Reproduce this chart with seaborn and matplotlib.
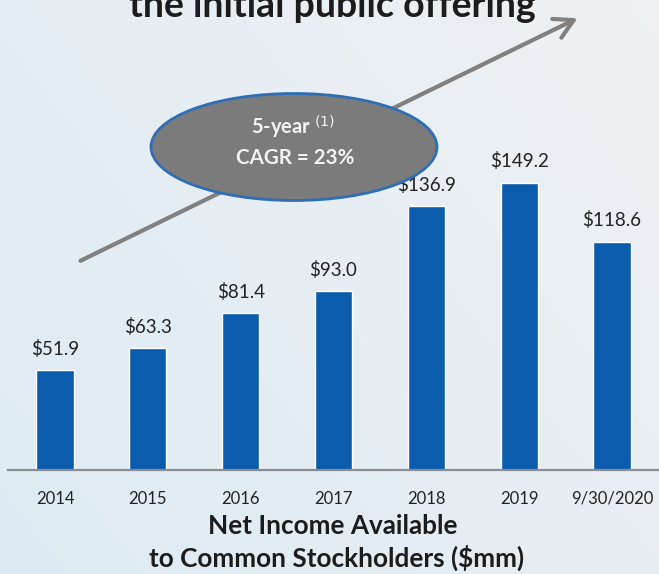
import matplotlib
matplotlib.use("Agg")
import matplotlib.pyplot as plt
import seaborn as sns
import pandas as pd
import numpy as np
from matplotlib.patches import Ellipse, FancyArrowPatch

categories = ["2014", "2015", "2016", "2017", "2018", "2019", "9/30/2020"]
values = [51.9, 63.3, 81.4, 93.0, 136.9, 149.2, 118.6]
value_labels = ["$51.9", "$63.3", "$81.4", "$93.0", "$136.9", "$149.2", "$118.6"]

sns.set_theme(style="white")
plt.rcParams["font.family"] = ["Lato", "DejaVu Sans"]

W, H = 659, 574
fig = plt.figure(figsize=(W / 100, H / 100), dpi=100)

# background gradient
bg = fig.add_axes([0, 0, 1, 1], zorder=-10)
gx = np.linspace(0, 1, 200)
gy = np.linspace(0, 1, 200)
GX, GY = np.meshgrid(gx, gy)
c1 = np.array([0.87, 0.92, 0.955])
c2 = np.array([0.935, 0.945, 0.955])
t = (0.6 * GX + 0.4 * GY)[..., None]
img = c1 * (1 - t) + c2 * t
bg.imshow(img, extent=[0, 1, 0, 1], aspect="auto", origin="lower")
bg.axis("off")

ax = fig.add_axes([8 / W, (H - 470) / H, (W - 8) / W, 470 / H])
ax.set_facecolor("none")
df = pd.DataFrame({"period": categories, "value": values})
sns.barplot(data=df, x="period", y="value", color="#0b5cad", width=0.4,
            saturation=1, ax=ax)
ax.set_xlim(-0.506, 6.506)
ax.set_ylim(0, 244)
for s in ["top", "right", "left"]:
    ax.spines[s].set_visible(False)
ax.spines["bottom"].set_color("#8a8e92")
ax.spines["bottom"].set_linewidth(1.6)
ax.set_yticks([])
ax.set_ylabel("")
ax.set_xlabel("")
ax.tick_params(axis="x", length=0, pad=15, labelsize=12, labelcolor="#222222")

for i, (v, lab) in enumerate(zip(values, value_labels)):
    ax.annotate(lab, (i, v), xytext=(0, 11), textcoords="offset points",
                ha="center", va="baseline", fontsize=13.5, color="#222222")

# x label
fig.text(333 / W, 1 - 526 / H, "Net Income Available", ha="center", va="center",
         fontsize=18.8, fontweight="bold", color="#1c1c1c")
fig.text(337 / W, 1 - 558 / H, "to Common Stockholders ($mm)", ha="center",
         va="center", fontsize=18.8, fontweight="bold", color="#1c1c1c")

# title (cut off at top, as in the reference)
fig.text(332 / W, 1 - 17 / H, "the initial public offering", ha="center",
         va="baseline", fontsize=27, fontweight="bold", color="#1c1c1c")

# arrow
fig.add_artist(FancyArrowPatch(
    (78 / W, 1 - 262 / H), (580 / W, 1 - 17 / H), transform=fig.transFigure,
    arrowstyle="->,head_length=9,head_width=5", color="#808080", lw=3,
    mutation_scale=1.5, zorder=5))

# ellipse
ell = Ellipse((294 / W, 1 - 147 / H), 286 / W, 107 / H, transform=fig.transFigure,
              facecolor="#7b7b7b", edgecolor="#2f6db5", lw=2, zorder=6)
fig.add_artist(ell)
fig.text(293 / W, 1 - 127 / H, r"5-year $^{(1)}$", ha="center", va="center",
         fontsize=14.5, fontweight="bold", color="#f2f2f2", zorder=7)
fig.text(295 / W, 1 - 158 / H, "CAGR = 23%", ha="center", va="center",
         fontsize=14.8, fontweight="bold", color="#f2f2f2", zorder=7)

fig.savefig("out.png", dpi=100)
